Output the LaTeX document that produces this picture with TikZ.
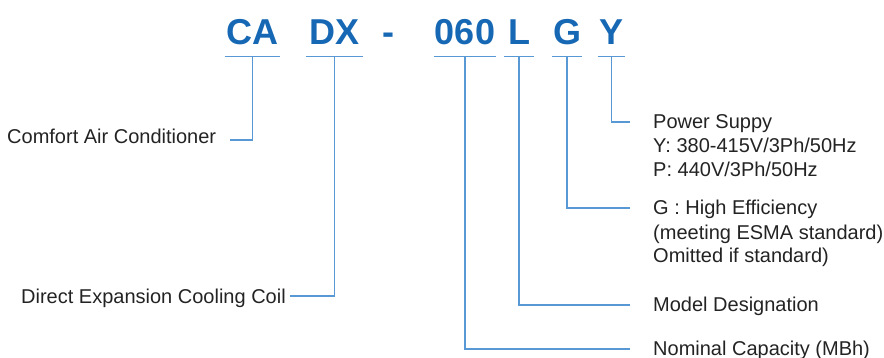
\documentclass[tikz,border=0pt]{standalone}
\usepackage{fontspec}
\setmainfont{Liberation Sans}
\usepackage{tikz}
\usetikzlibrary{positioning, calc}
\definecolor{CodeBlue}{RGB}{22, 104, 180}
\definecolor{LeadBlue}{RGB}{88, 152, 212}
\definecolor{TextGray}{RGB}{35, 35, 35}

\begin{document}
\begin{tikzpicture}[
            x=1pt, y=1pt,
            code/.style={anchor=base, font=\bfseries\fontsize{36}{36}\selectfont, text=CodeBlue,
                         text depth=0pt, inner xsep=1pt, inner ysep=11pt},
            desc/.style={anchor=base west, align=left, inner sep=0pt, text=TextGray,
                         font=\fontsize{20}{24}\selectfont},
            lead/.style={draw=LeadBlue, line width=1.2pt}
        ]
            \useasboundingbox (0,0) rectangle (884,-358);

            % model code
            \node[code] (ca) at (252.5,-45) {CA};
            \node[code, minimum width=57pt] (dx) at (334.5,-45) {DX};
            \node[code] (dash) at (388,-45) {-};
            \node[code] (cap) at (465,-45) {060};
            \node[code, minimum width=29pt] (lsel) at (519,-45) {L};
            \node[code] (gsel) at (567,-45) {G};
            \node[code] (ysel) at (611.5,-45) {Y};

            \foreach \n in {ca, dx, cap, lsel, gsel, ysel}
                \draw[lead] (\n.south west) -- (\n.south east);

            % descriptions (base = last line)
            \node[desc] (comfort) at (7,-144) {Comfort Air Conditioner};
            \node[desc] (coil) at (21,-303) {Direct Expansion Cooling Coil};
            \node[desc] (power) at (653,-177) {Power Suppy\\Y: 380-415V/3Ph/50Hz\\P: 440V/3Ph/50Hz};
            \node[desc] (geff) at (653,-263) {G : High Efficiency\\(meeting ESMA standard)\\Omitted if standard)};
            \node[desc] (model) at (653,-312) {Model Designation};
            \node[desc] (nominal) at (653,-355) {Nominal Capacity (MBh)};

            \draw[lead] (ca.south) |- (230,-140);
            \draw[lead] (dx.south) |- (290,-296);
            \draw[lead] (ysel.south) |- ([xshift=-23pt,yshift=55pt]power.base west);
            \draw[lead] (gsel.south) |- ([xshift=-23pt,yshift=55pt]geff.base west);
            \draw[lead] (lsel.south) |- ([xshift=-23pt,yshift=7pt]model.base west);
            \draw[lead] (cap.south) |- ([xshift=-23pt,yshift=6pt]nominal.base west);
        \end{tikzpicture}
\end{document}
